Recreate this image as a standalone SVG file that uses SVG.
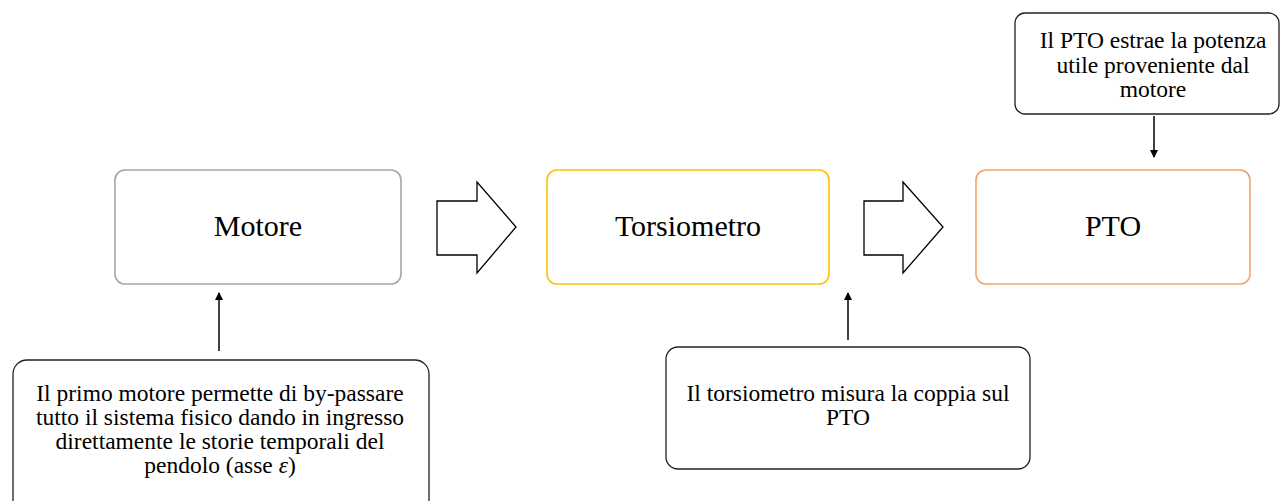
<svg xmlns="http://www.w3.org/2000/svg" width="1281" height="501" viewBox="0 0 1281 501">
<style>
text{font-family:"Liberation Serif","Times New Roman",serif;fill:#000;text-anchor:middle}
.main{font-size:30px}
.note{font-size:23.5px}
.box{fill:#fff;stroke-width:1.6}
.call{fill:#fff;stroke:#222;stroke-width:1.3}
.big{fill:#fff;stroke:#000;stroke-width:1.3}
.ln{stroke:#000;stroke-width:1.5;fill:none}
</style>
<defs>
<marker id="ah" markerWidth="8" markerHeight="8" refX="7" refY="4" orient="auto" markerUnits="userSpaceOnUse">
<path d="M0,0 L8,4 L0,8 Z" fill="#000"/>
</marker>
</defs>
<rect width="1281" height="501" fill="#fff"/>
<g id="motore">
<rect class="box" x="115" y="170" width="286" height="114" rx="10" stroke="#A6A6A6"/>
<text class="main" x="258" y="236">Motore</text>
</g>
<g id="torsiometro">
<rect class="box" x="547" y="170" width="282" height="114" rx="10" stroke="#FFC000"/>
<text class="main" x="688" y="236">Torsiometro</text>
</g>
<g id="pto">
<rect class="box" x="976" y="170" width="274" height="114" rx="10" stroke="#F4A46A"/>
<text class="main" x="1113" y="236">PTO</text>
</g>
<g id="nota-pto">
<rect class="call" x="1015" y="13" width="264" height="101" rx="10"/>
<text class="note" x="1153" y="48">Il PTO estrae la potenza</text>
<text class="note" x="1153" y="73">utile proveniente dal</text>
<text class="note" x="1153" y="97">motore</text>
</g>
<g id="nota-motore">
<rect class="call" x="13" y="360" width="416" height="160" rx="14"/>
<text class="note" x="220" y="401">Il primo motore permette di by-passare</text>
<text class="note" x="220" y="425">tutto il sistema fisico dando in ingresso</text>
<text class="note" x="220" y="449">direttamente le storie temporali del</text>
<text class="note" x="220" y="473">pendolo (asse <tspan font-style="italic">ε</tspan>)</text>
</g>
<g id="nota-torsiometro">
<rect class="call" x="666" y="347" width="364" height="122" rx="12"/>
<text class="note" x="848" y="401">Il torsiometro misura la coppia sul</text>
<text class="note" x="848" y="425">PTO</text>
</g>
<g id="connectors">
<path class="big" d="M437,201 H477 V182 L516,227 L477,273 V255 H437 Z"/>
<path class="big" d="M864,201 H903 V182 L943,227 L903,273 V255 H864 Z"/>
<line class="ln" x1="1154" y1="116" x2="1154" y2="157" marker-end="url(#ah)"/>
<line class="ln" x1="219" y1="351" x2="219" y2="293" marker-end="url(#ah)"/>
<line class="ln" x1="848" y1="340" x2="848" y2="293" marker-end="url(#ah)"/>
</g>
</svg>
